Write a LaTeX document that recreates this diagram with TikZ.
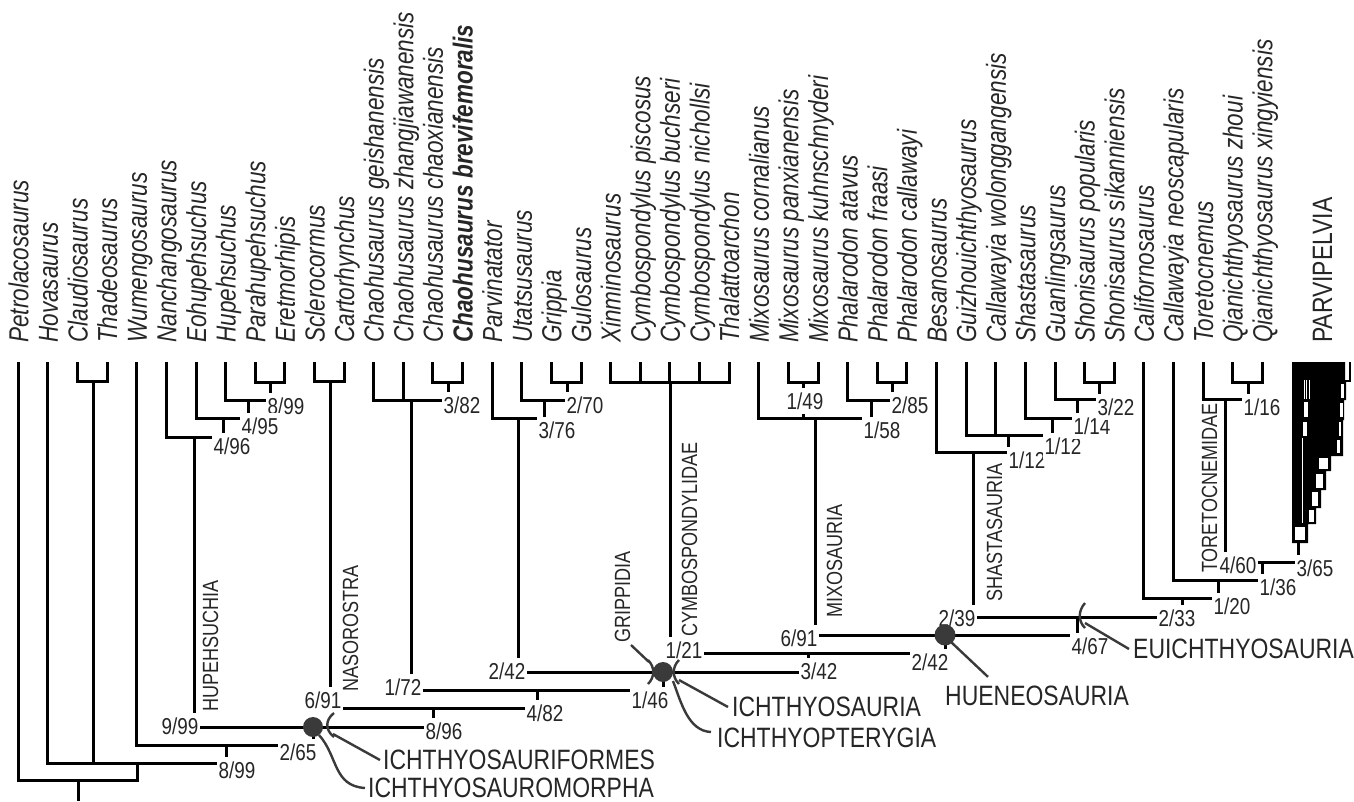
\documentclass[tikz,border=0pt]{standalone}
\usepackage{fontspec}
\setmainfont{Liberation Sans}[FakeStretch=0.82]
\definecolor{ink}{HTML}{262626}
\definecolor{markgray}{HTML}{3A3A3A}
\begin{document}
\begin{tikzpicture}[x=1pt,y=-1pt,
  branch/.style={line width=3pt,line join=miter},
  taxon/.style={rotate=90,anchor=base west,inner sep=0pt,text=ink,font=\fontsize{27.5}{30}\selectfont\itshape},
  clade/.style={rotate=90,anchor=base west,inner sep=0pt,text=ink,font=\fontsize{22}{24}\selectfont},
  supp/.style={fill=white,inner xsep=1.5pt,inner ysep=4.5pt,text=ink,font=\fontsize{23}{24}\selectfont},
  cladename/.style={anchor=west,inner sep=0pt,text=ink,font=\fontsize{28}{30}\selectfont},
  leader/.style={draw=markgray,line width=2.4pt},
  nodedot/.style={fill=markgray}]
\useasboundingbox (0,0) rectangle (1354,801);

% terminal taxa
\foreach \t [count=\i from 0] in {Petrolacosaurus, Hovasaurus, Claudiosaurus, Thadeosaurus,
  Wumengosaurus, Nanchangosaurus, Eohupehsuchus, Hupehsuchus, Parahupehsuchus, Eretmorhipis,
  Sclerocormus, Cartorhynchus, Chaohusaurus geishanensis, Chaohusaurus zhangjiawanensis,
  Chaohusaurus chaoxianensis, \textbf{Chaohusaurus brevifemoralis}, Parvinatator, Utatsusaurus,
  Grippia, Gulosaurus, Xinminosaurus, Cymbospondylus piscosus, Cymbospondylus buchseri,
  Cymbospondylus nichollsi, Thalattoarchon, Mixosaurus cornalianus, Mixosaurus panxianensis,
  Mixosaurus kuhnschnyderi, Phalarodon atavus, Phalarodon fraasi, Phalarodon callawayi,
  Besanosaurus, Guizhouichthyosaurus, Callawayia wolonggangensis, Shastasaurus, Guanlingsaurus,
  Shonisaurus popularis, Shonisaurus sikanniensis, Californosaurus, Callawayia neoscapularis,
  Toretocnemus, Qianichthyosaurus zhoui, Qianichthyosaurus xingyiensis}{
  \coordinate (t\i) at ({18.3+29.62*\i},362);
  \node[taxon] (l\i) at ({28.3+29.62*\i},343) {\t};
}

% internal nodes
\foreach \n/\x/\y in {root/78/780, nA/137/763, clth/93/381, nB/226/745, ichm/313/727,
  hup/194/437, hupA/223/418, hupB/248/400, hupC/270/382, ichf/433/708, naso/330/381,
  nC/537/690, chao/411/400, chaoA/448/382, ichp/663/672, grip/518/418, gripA/544/400,
  gripB/567/382, ichs/808/653, cymb/670/382, huen/945/635, mixo/815/418, mixA/803/382,
  phal/871/400, phalA/892/382, shas/973/452, shasA/1008/435, shasB/1052/418, shasC/1077/399,
  shon/1099/382, euA/1077/617, euic/1182/598, nD/1218/580, nE/1262/562, tore/1225/399,
  qian/1248/382, parv/1298/543, base/78/801}
  \coordinate (\n) at (\x,\y);

% branches
\foreach \c/\p in {t0/root, nA/root, t1/nA, clth/nA, nB/nA, t2/clth, t3/clth, t4/nB, ichm/nB,
  hup/ichm, ichf/ichm, t5/hup, hupA/hup, t6/hupA, hupB/hupA, t7/hupB, hupC/hupB, t8/hupC,
  t9/hupC, naso/ichf, nC/ichf, t10/naso, t11/naso, chao/nC, ichp/nC, t12/chao, t13/chao,
  chaoA/chao, t14/chaoA, t15/chaoA, grip/ichp, ichs/ichp, t16/grip, gripA/grip, t17/gripA,
  gripB/gripA, t18/gripB, t19/gripB, cymb/ichs, huen/ichs, t20/cymb, t21/cymb, t22/cymb,
  t23/cymb, t24/cymb, mixo/huen, euA/huen, t25/mixo, mixA/mixo, phal/mixo, t26/mixA, t27/mixA,
  t28/phal, phalA/phal, t29/phalA, t30/phalA, shas/euA, euic/euA, t31/shas, shasA/shas,
  t32/shasA, t33/shasA, shasB/shasA, t34/shasB, shasC/shasB, t35/shasC, shon/shasC, t36/shon,
  t37/shon, t38/euic, nD/euic, t39/nD, nE/nD, tore/nE, parv/nE, t40/tore, qian/tore,
  t41/qian, t42/qian}
  \draw[branch] (\c) |- (\p);
\draw[branch] (root) -- (base);

% collapsed Parvipelvia
\fill (1292,362) -- (1345,362) -- (1345,382) -- (1346,382) -- (1346,400) -- (1344,400)
  -- (1344,420) -- (1343,420) -- (1343,456) -- (1331,456) -- (1331,471) -- (1326,471)
  -- (1326,490) -- (1321,490) -- (1321,508) -- (1316,508) -- (1316,524) -- (1308,524)
  -- (1308,543) -- (1292,543) -- cycle;
\draw[line width=2pt] (1350,362) -- (1350,381) -- (1345,381);
\fill[white] (1295,527) rectangle (1305,540);
\fill[white] (1319,458) rectangle (1328,469);
\fill[white] (1316,474) rectangle (1323,488);
\fill[white] (1312,492) rectangle (1318,506);
\fill[white] (1309,510) rectangle (1314,522);
\fill[white] (1341,384) rectangle (1344,398);
\fill[white] (1340,403) rectangle (1343,417);
\fill[white] (1339,422) rectangle (1341,436);
\fill[white] (1337,440) rectangle (1340,453);
\fill[white] (1304,402) rectangle (1308,417);
\fill[white] (1303,422) rectangle (1307,436);
\draw[white,line width=1pt] (1302,438) -- (1302,523);
\foreach \k in {1304,1306.5,1309}
  \draw[white,line width=0.7pt] (\k,380) -- (\k,399);

% support values
\foreach \x/\y/\a/\b [count=\k] in {286/406/8/99, 260/426/4/95, 232/446/4/96, 180/726/9/99,
  323/700/6/91, 444/731/8/96, 298/752/2/65, 237/770/8/99, 462/405/3/82, 403/687/1/72,
  585/405/2/70, 557/430/3/76, 507/671/2/42, 545/713/4/82, 650/700/1/46, 684/650/1/21,
  819/671/3/42, 805/401/1/49, 910/405/2/85, 882/430/1/58, 799/638/6/91, 930/662/2/42,
  957/618/2/39, 1090/646/4/67, 1177/618/2/33, 1232/606/1/20, 1278/587/1/36, 1238/565/4/60,
  1315/568/3/65, 1027/460/1/12, 1063/446/1/12, 1092/426/1/14, 1116/407/3/22, 1262/407/1/16}
  \node[supp] (s\k) at (\x,\y) {\a/\b};

% clade names along branches
\node[clade] (hupL) at (218,712) {HUPEHSUCHIA};
\node[clade] (nasL) at (358,692) {NASOROSTRA};
\node[clade] (gripL) at (630,643) {GRIPPIDIA};
\node[clade] (cymL) at (697,637) {CYMBOSPONDYLIDAE};
\node[clade] (mixL) at (842,618) {MIXOSAURIA};
\node[clade] (shaL) at (1002,602) {SHASTASAURIA};
\node[clade] (torL) at (1217,573) {TORETOCNEMIDAE};
\node[clade,font=\fontsize{28}{30}\selectfont] (pvL) at (1332,343) {PARVIPELVIA};

% named groups
\node[cladename] (ifL) at (383,760) {ICHTHYOSAURIFORMES};
\node[cladename] (imL) at (368,788) {ICHTHYOSAUROMORPHA};
\node[cladename] (isL) at (732,707) {ICHTHYOSAURIA};
\node[cladename] (ipL) at (717,738) {ICHTHYOPTERYGIA};
\node[cladename] (hnL) at (945,696) {HUENEOSAURIA};
\node[cladename] (euL) at (1133,649) {EUICHTHYOSAURIA};

% node and stem markers
\coordinate (br1) at (330,725);
\coordinate (brL) at (651,672);
\coordinate (brR) at (676,672);
\coordinate (brE) at (1082,616);
\fill[nodedot] (ichm) circle[radius=10];
\fill[nodedot] (ichp) circle[radius=10];
\fill[nodedot] (huen) circle[radius=10.5];
\draw[leader] ([shift={(4,-12)}]br1) .. controls ([shift={(-5,-5)}]br1) and ([shift={(-5,5)}]br1) .. ([shift={(4,12)}]br1);
\draw[leader] ([shift={(-3,-12)}]brL) .. controls ([shift={(4,-5)}]brL) and ([shift={(4,5)}]brL) .. ([shift={(-3,12)}]brL);
\draw[leader] ([shift={(3,-12)}]brR) .. controls ([shift={(-4,-5)}]brR) and ([shift={(-4,5)}]brR) .. ([shift={(3,12)}]brR);
\draw[leader] ([shift={(3,-13)}]brE) .. controls ([shift={(-4,-5)}]brE) and ([shift={(-4,5)}]brE) .. ([shift={(3,12)}]brE);

\draw[leader] ([shift={(3,9)}]br1) -- ([xshift=-3pt]ifL.west);
\draw[leader] ([shift={(6,8)}]ichm) .. controls (338,756) and (333,786) .. ([xshift=-3pt]imL.west);
\draw[leader] ([shift={(-2,-10)}]brL) -- ([shift={(1,2)}]gripL.base west);
\draw[leader] ([shift={(3,8)}]brR) -- ([xshift=-4pt]isL.west);
\draw[leader] ([shift={(10,9)}]ichp) .. controls (681,702) and (688,731) .. ([shift={(-6,-6)}]ipL.west);
\draw[leader] ([shift={(6,7)}]huen) -- ([shift={(43,-9)}]hnL.north west);
\draw[leader] ([shift={(3,7)}]brE) -- ([xshift=-4pt]euL.west);
\end{tikzpicture}
\end{document}
